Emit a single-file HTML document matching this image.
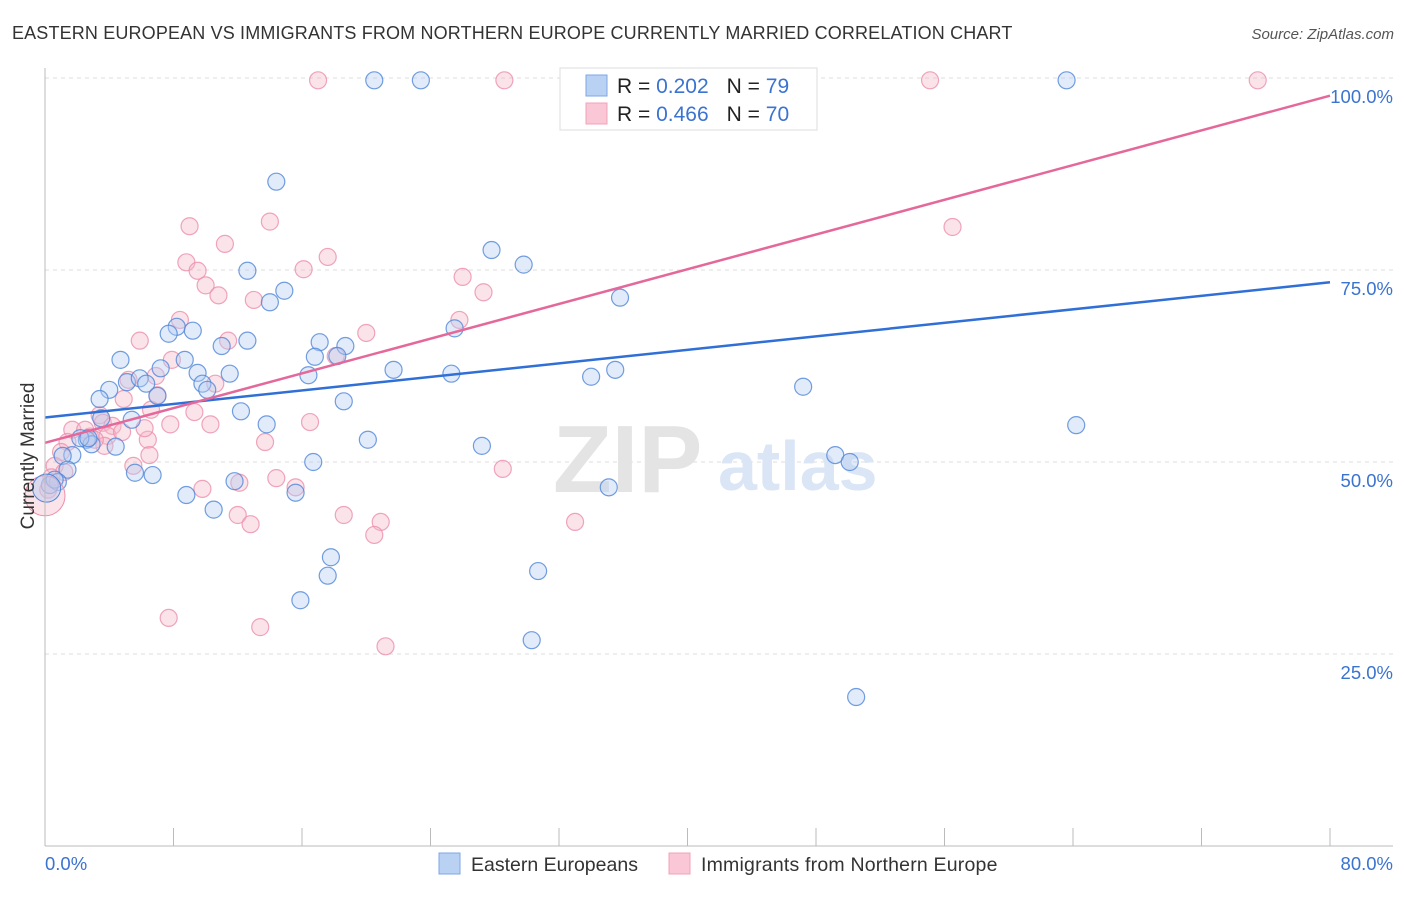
<!DOCTYPE html>
<html><head><meta charset="utf-8"><style>
body{margin:0;background:#fff;font-family:"Liberation Sans",sans-serif}
svg text{font-family:"Liberation Sans",sans-serif}
</style></head><body>
<svg id="chart" width="1406" height="892" viewBox="0 0 1406 892" xmlns="http://www.w3.org/2000/svg">
<text x="12" y="39" font-size="18" letter-spacing="0.15" fill="#333">EASTERN EUROPEAN VS IMMIGRANTS FROM NORTHERN EUROPE CURRENTLY MARRIED CORRELATION CHART</text>
<text x="1394" y="39" font-size="15" fill="#555" text-anchor="end" font-style="italic">Source: ZipAtlas.com</text>
<g id="grid"></g>
<g><text x="553" y="492" font-size="96" fill="#e4e4e4" font-family="Liberation Serif" font-weight="bold">ZIP</text><text x="718" y="490" font-size="70" fill="#dae5f5" font-weight="bold">atlas</text></g>
<g id="points"></g>
<g id="lines"></g>
<g id="axes"></g>
<text transform="translate(34,456) rotate(-90)" font-size="19" fill="#333" text-anchor="middle">Currently Married</text>
<g>
<rect x="560" y="68" width="257" height="62" fill="#fff" stroke="#ddd"/>
<rect x="586" y="75" width="21" height="21" fill="#b9d1f3" stroke="#7ea6e3"/>
<rect x="586" y="103" width="21" height="21" fill="#f9c7d5" stroke="#f0a3b9"/>
<text x="617" y="93" font-size="21" fill="#222">R = <tspan fill="#3a73d0">0.202</tspan><tspan dx="18">N = </tspan><tspan fill="#3a73d0">79</tspan></text>
<text x="617" y="121" font-size="21" fill="#222">R = <tspan fill="#3a73d0">0.466</tspan><tspan dx="18">N = </tspan><tspan fill="#3a73d0">70</tspan></text>
</g>
<g>
<rect x="439" y="853" width="21" height="21" fill="#b9d1f3" stroke="#7ea6e3"/>
<text x="471" y="871" font-size="19.5" fill="#333">Eastern Europeans</text>
<rect x="669" y="853" width="21" height="21" fill="#f9c7d5" stroke="#f0a3b9"/>
<text x="701" y="871" font-size="19.5" letter-spacing="0.2" fill="#333">Immigrants from Northern Europe</text>
</g>
</svg>
<script>
const blueX=[14.4,20.5,23.4,63.6,27.8,29.8,35.8,14.9,14.0,12.6,8.2,9.2,7.7,11.0,12.6,8.7,4.7,17.1,18.7,18.2,16.8,16.4,21.7,25.3,34.0,35.5,47.2,5.1,5.9,6.3,4.0,3.4,7.2,9.5,9.8,10.1,11.5,7.0,5.4,12.2,13.8,18.6,64.2,20.1,27.2,3.5,2.6,2.9,4.4,1.7,1.1,1.4,0.8,0.3,5.6,6.7,11.8,8.8,10.5,15.6,16.7,49.2,50.1,35.1,17.8,17.6,30.7,15.9,30.3,50.5,25.5,34.6,41.1,0.6,2.2,2.7];
const blueY=[86.5,99.7,99.7,99.7,77.6,75.7,71.4,72.3,70.8,74.9,67.6,67.1,66.7,65.1,65.8,63.3,63.3,65.6,65.1,63.8,63.7,61.3,62.0,61.5,61.1,62.0,59.8,60.4,60.9,60.2,59.4,58.2,62.2,61.6,60.2,59.4,61.5,58.6,55.5,56.6,54.9,57.9,54.8,52.9,52.1,55.7,52.9,52.3,52.0,50.9,50.8,49.0,47.4,47.0,48.6,48.3,47.5,45.7,43.8,46.0,50.0,50.9,50.0,46.7,37.6,35.2,35.8,32.0,26.8,19.4,67.4,99.7,99.7,47.7,53.1,53.1];
const pinkX=[17.0,28.6,55.1,75.5,14.0,9.0,11.2,56.5,17.6,8.8,9.5,10.0,10.8,13.0,16.1,26.0,27.3,8.4,5.9,11.4,20.0,25.8,7.9,6.9,10.6,18.1,9.3,6.6,7.8,10.3,4.9,5.2,3.4,3.6,4.2,6.4,13.7,16.5,3.9,1.7,2.8,1.4,1.0,0.6,5.5,9.8,12.1,14.4,15.6,12.0,12.8,18.6,20.9,20.5,28.5,33.0,7.7,13.4,21.2,0.2,0.4,1.2,2.5,6.2,3.7,4.8,3.1,6.5,7.0];
const pinkY=[99.7,99.7,99.7,99.7,81.3,80.7,78.4,80.6,76.7,76.0,74.9,73.0,71.7,71.1,75.1,74.1,72.1,68.5,65.8,65.8,66.8,68.5,63.3,61.2,60.2,63.8,56.5,56.8,54.9,54.9,58.2,60.7,56.1,55.1,54.7,52.9,52.6,55.2,53.4,54.2,53.3,52.6,51.3,49.5,49.5,46.5,47.3,47.9,46.7,43.1,41.9,43.1,42.2,40.5,49.1,42.2,29.7,28.5,26.0,46.4,48.0,48.7,54.2,54.4,52.1,53.9,52.9,50.9,58.7];
const bigBlue=[0.1,46.6], bigPink=[0.0,45.6];
const trendBlue=[55.8,73.4]; // value at x=0 and x=80
const trendPink=[52.5,97.7];
const yTicks=[25,50,75,100];
const yTickLabels=["25.0%","50.0%","75.0%","100.0%"];
const xTicks=[0,8,16,24,32,40,48,56,64,72,80];
const xLabels=["0.0%","80.0%"];

const NS="http://www.w3.org/2000/svg";
const sx=v=>45+v/80*1285, sy=v=>846-v*7.68;
function mk(tag,attrs,parent){const e=document.createElementNS(NS,tag);for(const k in attrs)e.setAttribute(k,attrs[k]);parent.appendChild(e);return e;}
const grid=document.getElementById('grid'),pts=document.getElementById('points'),lines=document.getElementById('lines'),axes=document.getElementById('axes');
yTicks.forEach((t,i)=>{
  const l=mk('line',{x1:45,x2:1393,y1:sy(t),y2:sy(t),stroke:'#ddd','stroke-dasharray':'4,4'},grid);
  
  
  const tx=mk('text',{x:1393,y:sy(t)+25,'font-size':18.5,fill:'#3a73d0','text-anchor':'end'},axes);
  tx.textContent=yTickLabels[i];
  
  
});
const ax=mk('line',{x1:45,x2:1393,y1:846,y2:846,stroke:'#bbb'},axes);


const ay=mk('line',{x1:45,x2:45,y1:68,y2:846,stroke:'#bbb'},axes);


xTicks.forEach(t=>{const l=mk('line',{x1:sx(t),x2:sx(t),y1:828,y2:846,stroke:'#bbb'},axes);
  
  });
const xl0=mk('text',{x:45,y:870,'font-size':18.5,fill:'#3a73d0'},axes);xl0.textContent=xLabels[0];


const xl1=mk('text',{x:1393,y:870,'font-size':18.5,fill:'#3a73d0','text-anchor':'end'},axes);xl1.textContent=xLabels[1];


function dots(X,Y,fill,stroke,name){X.forEach((x,i)=>{const c=mk('circle',{cx:sx(x),cy:sy(Y[i]),r:8.5,fill:fill,'fill-opacity':0.4,stroke:stroke,'stroke-width':1.2,'stroke-opacity':0.8},pts);
  
  });}
dots(pinkX,pinkY,'#f6b8ca','#ec8fab','pink-point');
dots(blueX,blueY,'#b4cdf2','#4f86d8','blue-point');
const bp=mk('circle',{cx:sx(bigPink[0]),cy:sy(bigPink[1]),r:20,fill:'#f6b8ca','fill-opacity':0.4,stroke:'#ec8fab'},pts);


const bb=mk('circle',{cx:sx(bigBlue[0]),cy:sy(bigBlue[1]),r:14,fill:'#b4cdf2','fill-opacity':0.45,stroke:'#4f86d8'},pts);


const tb=mk('line',{x1:sx(0),y1:sy(trendBlue[0]),x2:sx(80),y2:sy(trendBlue[1]),stroke:'#2f6fd6','stroke-width':2.5},lines);


const tp=mk('line',{x1:sx(0),y1:sy(trendPink[0]),x2:sx(80),y2:sy(trendPink[1]),stroke:'#e4689a','stroke-width':2.5},lines);


</script>
</body></html>
